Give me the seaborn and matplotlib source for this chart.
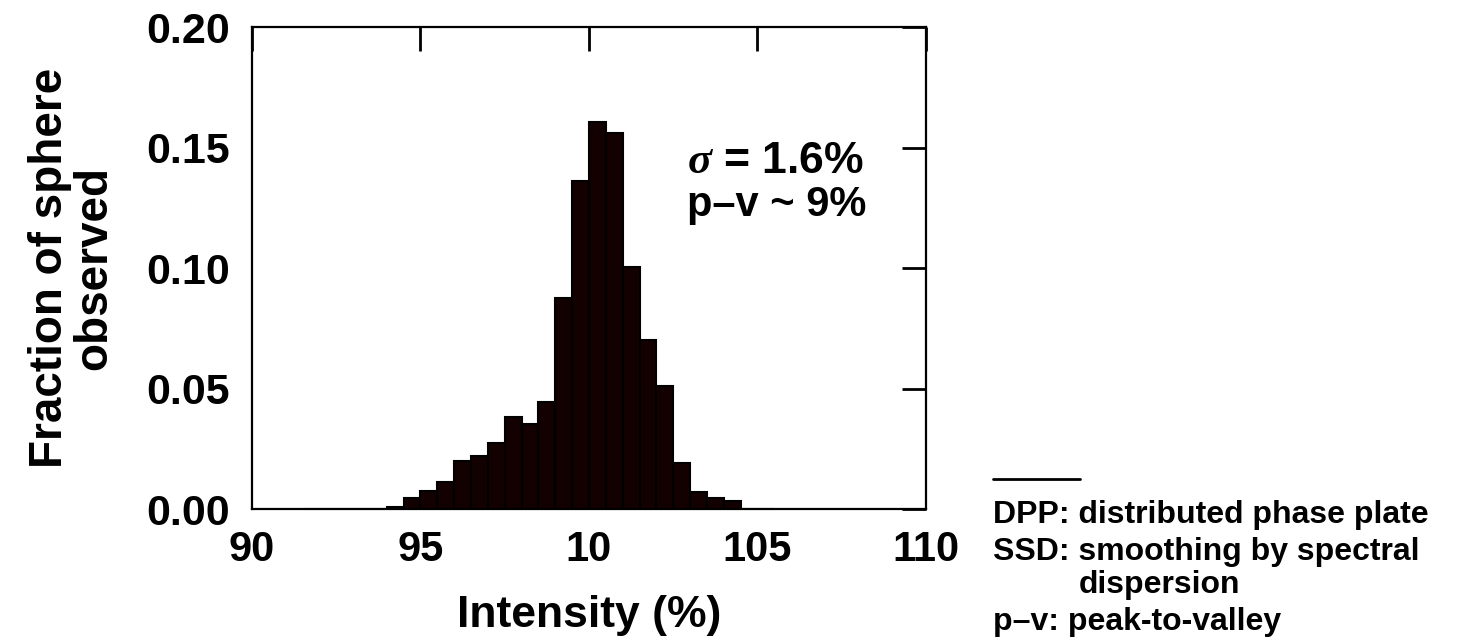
import numpy as np
import pandas as pd
import matplotlib
matplotlib.use("Agg")
import matplotlib.pyplot as plt
import seaborn as sns
from matplotlib.lines import Line2D

# bin left edges (0.5 % wide) and fraction of sphere in each bin
bin_left = [91.5, 92.0, 92.5, 93.0, 93.5, 94.0, 94.5, 95.0, 95.5, 96.0,
            96.5, 97.0, 97.5, 98.0, 98.5, 99.0, 99.5, 100.0, 100.5, 101.0,
            101.5, 102.0, 102.5, 103.0, 103.5, 104.0, 104.5, 105.0]
fraction = [0.0, 0.0, 0.0, 0.0, 0.0, 0.001, 0.0045, 0.0074, 0.0114, 0.0201,
            0.022, 0.0276, 0.0382, 0.0354, 0.0445, 0.0875, 0.136, 0.1605, 0.1562, 0.1005,
            0.0703, 0.0511, 0.0193, 0.0070, 0.0045, 0.0035, 0.0, 0.0]
bin_width = 0.5

x_ticks = [90, 95, 100, 105, 110]
x_tick_labels = ["90", "95", "10", "105", "110"]
y_ticks = [0.00, 0.05, 0.10, 0.15, 0.20]

notes = ["DPP: distributed phase plate",
         "SSD: smoothing by spectral",
         "dispersion",
         "p\u2013v: peak-to-valley"]

sns.set_theme(style="white")
plt.rcParams["font.family"] = ["Liberation Sans", "DejaVu Sans"]
plt.rcParams["font.weight"] = "bold"
plt.rcParams["text.color"] = "black"
plt.rcParams["axes.labelcolor"] = "black"
plt.rcParams["mathtext.fontset"] = "custom"
plt.rcParams["mathtext.it"] = "Liberation Serif:italic:bold"
plt.rcParams["mathtext.rm"] = "Liberation Sans:bold"

fig = plt.figure(figsize=(14.6, 6.37), dpi=100)
ax = fig.add_axes([0.1726, 0.2009, 0.4616, 0.7567])

df = pd.DataFrame({"intensity": [b + bin_width / 2 for b in bin_left],
                   "fraction": fraction})
sns.histplot(data=df, x="intensity", weights="fraction",
             binwidth=bin_width, binrange=(bin_left[0], bin_left[-1] + bin_width),
             color="#130000", edgecolor="black", linewidth=1.5, alpha=1, ax=ax)

ax.set_xlim(90, 110)
ax.set_ylim(0, 0.20)
ax.set_xticks(x_ticks)
ax.set_xticklabels(x_tick_labels, fontsize=30)
ax.set_yticks(y_ticks)
ax.set_yticklabels([f"{v:.2f}" for v in y_ticks], fontsize=31)
ax.tick_params(direction="in", length=17, width=2, top=True, right=True,
               colors="black")
ax.tick_params(axis="y", pad=16)
ax.tick_params(axis="x", pad=15)
for sp in ax.spines.values():
    sp.set_linewidth(1.6)
    sp.set_color("black")

ax.set_xlabel("Intensity (%)", fontsize=32, fontweight="bold", labelpad=18)
ax.set_ylabel("Fraction of sphere\nobserved", fontsize=33, fontweight="bold",
              linespacing=1.0)
ax.yaxis.set_label_coords(-0.202, 0.5)

ax.text(102.9, 0.1394, r"$\sigma$ = 1.6%", fontsize=32, fontweight="bold",
        ha="left", va="baseline")
ax.text(102.9, 0.1216, "p\u2013v ~ 9%", fontsize=30, fontweight="bold",
        ha="left", va="baseline")

# footnote block
fig.add_artist(Line2D([0.680, 0.740], [0.248, 0.248], color="black",
                      linewidth=2, transform=fig.transFigure))
note_y = [0.179, 0.121, 0.069, 0.011]
note_x = [0.680, 0.680, 0.739, 0.680]
for txt, xx, yy in zip(notes, note_x, note_y):
    fig.text(xx, yy, txt, fontsize=23, fontweight="bold", ha="left",
             va="baseline")

fig.savefig("out.png", dpi=100)
